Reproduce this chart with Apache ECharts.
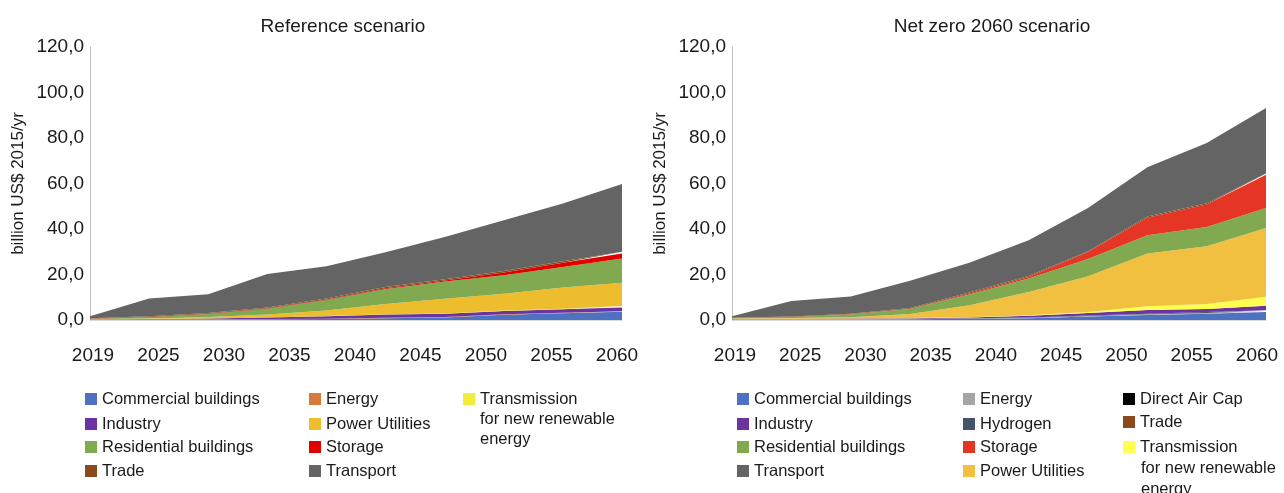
<!DOCTYPE html>
<html lang="en">
<head>
    <meta charset="UTF-8">
    <title>Reference vs Net zero 2060</title>
    <script src="https://cdn.jsdelivr.net/npm/echarts@6/dist/echarts.min.js"></script>
    <style>
        body{
            margin: 0;
            background: #fff;
        }
        #chart{
            width: 1284px;
            height: 493px;
        }
    </style>
</head>
<body>
    <div id="chart"></div>
    <script>
        // tick labels on the x axis, and the 10 data steps they are spread over
        var yearLabels = ['2019', '2025', '2030', '2035', '2040', '2045', '2050', '2055', '2060'];
        var steps = ['0', '1', '2', '3', '4', '5', '6', '7', '8', '9'];

        // Reference scenario, stacked bottom to top
        var refNames = ['Commercial buildings', 'Energy', 'Industry', 'Transmission', 'Power Utilities',
                        'Residential buildings', 'Storage', 'Trade', 'Transport'];
        var refCommercial  = [0.1, 0.2, 0.25, 0.3, 0.45, 0.8, 1.1, 2.3, 3.0, 3.6];
        var refEnergy      = [0.1, 0.1, 0.1, 0.15, 0.15, 0.2, 0.2, 0.2, 0.2, 0.3];
        var refIndustry    = [0.1, 0.15, 0.3, 0.6, 1.1, 1.4, 1.5, 1.5, 1.5, 1.6];
        var refTransmission= [0.05, 0.05, 0.05, 0.1, 0.1, 0.1, 0.1, 0.2, 0.3, 0.6];
        var refPower       = [0.1, 0.2, 0.6, 1.25, 2.4, 4.5, 6.4, 7.3, 9.3, 10.3];
        var refResidential = [0.15, 0.5, 1.3, 2.6, 4.6, 6.6, 7.6, 8.2, 9.0, 10.6];
        var refStorage     = [0.05, 0.1, 0.2, 0.2, 0.2, 0.4, 0.5, 1.2, 1.9, 2.2];
        var refTrade       = [0.15, 0.3, 0.3, 0.3, 0.4, 0.5, 0.5, 0.6, 0.6, 0.8];
        var refTransport   = [0.8, 7.8, 8.2, 14.7, 14.2, 15.3, 18.6, 22.3, 25.4, 29.8];

        // Net zero 2060 scenario, stacked bottom to top
        var nzNames = ['Commercial buildings', 'Energy', 'Hydrogen', 'Direct Air Cap', 'Industry', 'Transmission',
                       'Power Utilities', 'Residential buildings', 'Storage', 'Trade', 'Transport'];
        var nzCommercial   = [0.2, 0.2, 0.25, 0.3, 0.5, 0.8, 1.5, 2.2, 2.8, 3.5];
        var nzEnergy       = [0.2, 0.2, 0.2, 0.2, 0.2, 0.2, 0.3, 0.3, 0.3, 0.3];
        var nzHydrogen     = [0, 0, 0, 0, 0.05, 0.1, 0.1, 0.2, 0.2, 0.2];
        var nzDac          = [0, 0, 0, 0, 0, 0, 0.05, 0.1, 0.2, 0.3];
        var nzIndustry     = [0.1, 0.15, 0.2, 0.3, 0.4, 0.8, 1.1, 1.6, 1.3, 2.0];
        var nzTransmission = [0, 0, 0, 0.05, 0.1, 0.2, 0.5, 1.6, 2.2, 3.9];
        var nzPower        = [0.3, 0.3, 0.6, 1.8, 5.2, 10.2, 15.7, 23.2, 25.4, 30.2];
        var nzResidential  = [0.1, 0.5, 1.2, 2.2, 4.8, 5.9, 7.6, 8.0, 8.5, 8.8];
        var nzStorage      = [0, 0, 0.05, 0.1, 0.4, 0.7, 3.0, 7.8, 9.9, 14.7];
        var nzTrade        = [0.1, 0.2, 0.3, 0.3, 0.4, 0.4, 0.4, 0.5, 0.5, 0.5];
        var nzTransport    = [0.6, 6.85, 7.5, 11.95, 13.15, 15.8, 18.95, 21.6, 26.5, 28.8];

        var refValues = [refCommercial, refEnergy, refIndustry, refTransmission, refPower,
                         refResidential, refStorage, refTrade, refTransport];
        var nzValues = [nzCommercial, nzEnergy, nzHydrogen, nzDac, nzIndustry, nzTransmission,
                        nzPower, nzResidential, nzStorage, nzTrade, nzTransport];

        var refColors = {
            'Commercial buildings': '#4E72C2', 'Energy': '#D97A3A', 'Industry': '#6A35A0',
            'Transmission': '#F2EC3A', 'Power Utilities': '#EDBD2E', 'Residential buildings': '#80A950',
            'Storage': '#E00000', 'Trade': '#8B4A1C', 'Transport': '#646464'
        };
        var nzColors = {
            'Commercial buildings': '#4E72C2', 'Energy': '#A5A5A5', 'Hydrogen': '#44546A',
            'Direct Air Cap': '#000000', 'Industry': '#6A35A0', 'Transmission': '#FFFF4D',
            'Power Utilities': '#F2C040', 'Residential buildings': '#80A950', 'Storage': '#E53525',
            'Trade': '#8B4A1C', 'Transport': '#646464'
        };

        var font = 'Liberation Sans, Arial, sans-serif';
        var textColor = '#1a1a1a';

        function makeSeries(names, values, colors, idx, stack) {
            return names.map(function (name, i) {
                return {
                    name: name,
                    type: 'line',
                    stack: stack,
                    xAxisIndex: idx,
                    yAxisIndex: idx,
                    data: values[i],
                    symbol: 'none',
                    lineStyle: { width: 0 },
                    itemStyle: { color: colors[name] },
                    areaStyle: { color: colors[name], opacity: 1 },
                    emphasis: { disabled: true }
                };
            });
        }

        function dataAxis(idx) {
            return {
                type: 'category', gridIndex: idx, data: steps, boundaryGap: false,
                axisLine: { lineStyle: { color: '#D9D9D9' } },
                axisTick: { show: false }, axisLabel: { show: false }
            };
        }
        function labelAxis(idx) {
            return {
                type: 'category', gridIndex: idx, data: yearLabels, boundaryGap: false,
                axisLine: { show: false }, axisTick: { show: false },
                axisLabel: { fontSize: 19, color: textColor, fontFamily: font, margin: 26 }
            };
        }
        function valueAxis(idx) {
            return {
                type: 'value', gridIndex: idx, min: 0, max: 120, interval: 20,
                name: 'billion US$ 2015/yr', nameLocation: 'middle', nameGap: 63,
                nameTextStyle: { fontSize: 17, color: textColor, fontFamily: font },
                axisLine: { show: true, lineStyle: { color: '#BFBFBF' } },
                axisTick: { show: false }, splitLine: { show: false },
                axisLabel: {
                    fontSize: 19, color: textColor, fontFamily: font, margin: 6,
                    formatter: function (v) { return v.toFixed(1).replace('.', ','); }
                }
            };
        }
        function hiddenY(idx) {
            return { type: 'value', gridIndex: idx, show: false, min: 0, max: 120 };
        }

        // legend items: [name, color, icon x, row centre y]
        var legendItems = [
            ['Commercial buildings', refColors['Commercial buildings'], 85, 399],
            ['Industry', refColors['Industry'], 85, 424],
            ['Residential buildings', refColors['Residential buildings'], 85, 447],
            ['Trade', refColors['Trade'], 85, 471],
            ['Energy', refColors['Energy'], 309, 399],
            ['Power Utilities', refColors['Power Utilities'], 309, 424],
            ['Storage', refColors['Storage'], 309, 447],
            ['Transport', refColors['Transport'], 309, 471],
            ['Transmission', refColors['Transmission'], 463, 399],
            ['Commercial buildings', nzColors['Commercial buildings'], 737, 399],
            ['Industry', nzColors['Industry'], 737, 424],
            ['Residential buildings', nzColors['Residential buildings'], 737, 447],
            ['Transport', nzColors['Transport'], 737, 471],
            ['Energy', nzColors['Energy'], 963, 399],
            ['Hydrogen', nzColors['Hydrogen'], 963, 424],
            ['Storage', nzColors['Storage'], 963, 447],
            ['Power Utilities', nzColors['Power Utilities'], 963, 471],
            ['Direct Air Cap', nzColors['Direct Air Cap'], 1123, 399],
            ['Trade', nzColors['Trade'], 1123, 422],
            ['Transmission', nzColors['Transmission'], 1123, 447]
        ];
        var legends = legendItems.map(function (it) {
            return {
                data: [it[0]], left: it[2], top: it[3] - 9, padding: 0,
                itemWidth: 12, itemHeight: 12, icon: 'rect', selectedMode: false,
                itemStyle: { color: it[1] },
                textStyle: { fontSize: 16.5, color: textColor, fontFamily: font, lineHeight: 18 }
            };
        });

        // extra lines of the wrapped "Transmission" legend entry
        var extraLines = [
            ['for new renewable', 480, 420], ['energy', 480, 440],
            ['for new renewable', 1141, 469], ['energy', 1141, 490]
        ];
        var graphics = extraLines.map(function (l) {
            return {
                type: 'text', left: l[1], top: l[2] - 9,
                style: { text: l[0], fontSize: 16.5, fill: textColor, fontFamily: font }
            };
        });

        var myChart = echarts.init(document.getElementById('chart'));
        var option = {
            animation: false,
            title: [
                { text: 'Reference scenario', left: 338, top: 12, textAlign: 'center',
                  textStyle: { fontSize: 19, fontWeight: 'normal', color: textColor, fontFamily: font } },
                { text: 'Net zero 2060 scenario', left: 987, top: 12, textAlign: 'center',
                  textStyle: { fontSize: 19, fontWeight: 'normal', color: textColor, fontFamily: font } }
            ],
            legend: legends,
            graphic: graphics,
            grid: [
                { left: 90, width: 532, top: 47, height: 273 },
                { left: 732, width: 534, top: 47, height: 273 },
                { left: 93, width: 524, top: 47, height: 273 },
                { left: 735, width: 522, top: 47, height: 273 }
            ],
            xAxis: [dataAxis(0), dataAxis(1), labelAxis(2), labelAxis(3)],
            yAxis: [valueAxis(0), valueAxis(1), hiddenY(2), hiddenY(3)],
            series: makeSeries(refNames, refValues, refColors, 0, 'ref')
                .concat(makeSeries(nzNames, nzValues, nzColors, 1, 'nz'))
        };
        myChart.setOption(option);
    </script>
</body>
</html>
